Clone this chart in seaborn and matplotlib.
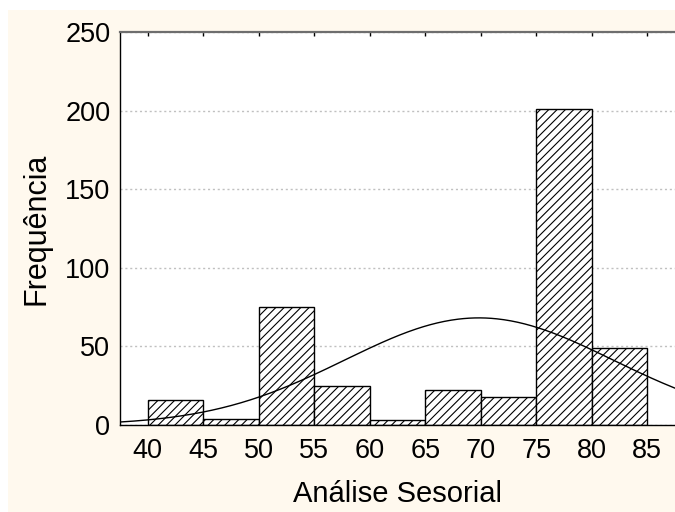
import numpy as np
import matplotlib
matplotlib.use("Agg")
import matplotlib.pyplot as plt
from matplotlib.patches import Rectangle
import seaborn as sns

# Frequency table of the sensory analysis scores (5-point classes)
bin_edges = [40, 45, 50, 55, 60, 65, 70, 75, 80, 85]
counts = [16, 4, 75, 25, 3, 22, 18, 201, 49]
x_ticks = [40, 45, 50, 55, 60, 65, 70, 75, 80, 85]
y_ticks = [0, 50, 100, 150, 200, 250]

sns.set_theme(style="white")
plt.rcParams["font.family"] = ["Liberation Sans", "DejaVu Sans"]
plt.rcParams["hatch.linewidth"] = 0.8
plt.rcParams["hatch.color"] = "black"
plt.rcParams["text.color"] = "black"
plt.rcParams["axes.labelcolor"] = "black"
plt.rcParams["xtick.color"] = "black"
plt.rcParams["ytick.color"] = "black"

TICK_FS = 19.5
LABEL_FS = 21

fig = plt.figure(figsize=(6.75, 5.12), dpi=100, facecolor="white")
# cream backdrop behind the chart
fig.patches.append(Rectangle((8 / 675, 0), 1, (512 - 10) / 512,
                             transform=fig.transFigure, facecolor="#FFF9EE",
                             edgecolor="none", zorder=-10))
ax = fig.add_axes([120 / 675, 1 - 425 / 512, 1 - 120 / 675, (425 - 32) / 512])
ax.set_facecolor("white")
ax.set_zorder(1)

edges = np.array(bin_edges, dtype=float)
mids = (edges[:-1] + edges[1:]) / 2
sns.histplot(x=mids, weights=counts, bins=bin_edges, stat="count",
             color="white", edgecolor="black", linewidth=1.0, alpha=1.0, ax=ax)
for p in ax.patches:
    p.set_hatch("////")
    p.set_zorder(2)

# fitted normal curve scaled to counts per class
c = np.array(counts, dtype=float)
n = c.sum()
mu = (c * mids).sum() / n
sd = np.sqrt((c * (mids - mu) ** 2).sum() / n)
width = edges[1] - edges[0]
xs = np.linspace(37.5, 87.5, 400)
ys = n * width / (sd * np.sqrt(2 * np.pi)) * np.exp(-0.5 * ((xs - mu) / sd) ** 2)
sns.lineplot(x=xs, y=ys, color="black", linewidth=1.0, ax=ax, zorder=3)

ax.set_xlim(37.5, 87.5)
ax.set_ylim(0, 250)
ax.set_xticks(x_ticks)
ax.set_yticks(y_ticks)
ax.set_xticklabels([str(v) for v in x_ticks], fontsize=TICK_FS)
ax.set_yticklabels([str(v) for v in y_ticks], fontsize=TICK_FS)

ax.yaxis.grid(True, linestyle=(0, (1.5, 2)), color="#c0c0c0", linewidth=1.0)
ax.xaxis.grid(False)
ax.set_axisbelow(True)

ax.tick_params(axis="x", which="major", top=True, bottom=False, direction="in",
               length=3, width=1, color="black", pad=9, labelbottom=True, labeltop=False)
ax.tick_params(axis="y", which="major", left=False, right=False, length=0, pad=7)

for side in ["left", "bottom"]:
    ax.spines[side].set_color("black")
    ax.spines[side].set_linewidth(1.0)
ax.spines["top"].set_color("#6e6e6e")
ax.spines["top"].set_linewidth(1.6)
ax.spines["right"].set_visible(False)

ax.set_xlabel("Análise Sesorial", fontsize=LABEL_FS, labelpad=12)
ax.set_ylabel("Frequência", fontsize=22, labelpad=10)

fig.savefig("out.png", dpi=100, facecolor=fig.get_facecolor())
